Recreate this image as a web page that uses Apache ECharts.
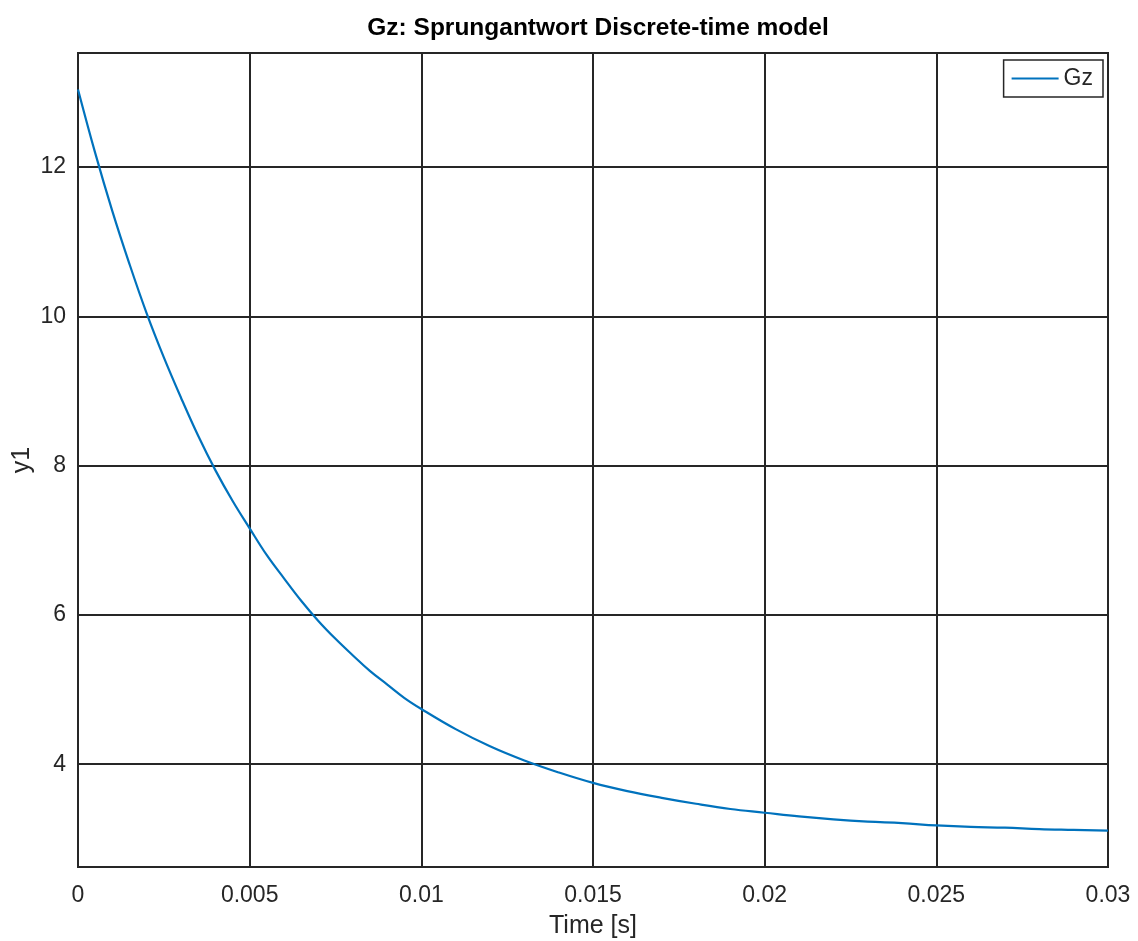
<!DOCTYPE html>
<html>
<head>
<meta charset="utf-8">
<script src="https://cdn.jsdelivr.net/npm/echarts@6/dist/echarts.min.js"></script>
<style>
html,body{margin:0;padding:0;background:#fff;}
#chart{width:1138px;height:941px;}
</style>
</head>
<body>
<div id="chart"></div>
<script>
// time samples [s]
const timeS = [0, 0.0005, 0.001, 0.0015, 0.002, 0.0025, 0.003, 0.0035, 0.004, 0.0045,
  0.005, 0.0055, 0.006, 0.0065, 0.007, 0.0075, 0.008, 0.0085, 0.009, 0.0095,
  0.010, 0.011, 0.012, 0.013, 0.014, 0.015, 0.016, 0.017, 0.018, 0.019,
  0.020, 0.021, 0.022, 0.023, 0.024, 0.025, 0.026, 0.027, 0.028, 0.029, 0.030];
// Gz step response y1
const gzValues = [13.04, 12.19, 11.41, 10.70, 10.04, 9.45, 8.91, 8.40, 7.94, 7.53,
  7.16, 6.80, 6.49, 6.19, 5.92, 5.68, 5.46, 5.25, 5.07, 4.89,
  4.74, 4.47, 4.24, 4.05, 3.89, 3.75, 3.64, 3.55, 3.47, 3.40,
  3.35, 3.30, 3.26, 3.23, 3.21, 3.18, 3.16, 3.15, 3.13, 3.12, 3.11];
const xTickValues = [0, 0.005, 0.01, 0.015, 0.02, 0.025, 0.03];
const xTickLabels = ['0', '0.005', '0.01', '0.015', '0.02', '0.025', '0.03'];
const yTickValues = [4, 6, 8, 10, 12];
const yTickLabels = ['4', '6', '8', '10', '12'];
const titleText = 'Gz: Sprungantwort Discrete-time model';
const xName = 'Time [s]';
const yName = 'y1';
const seriesName = 'Gz';

const textColor = '#262626';
const gridColor = '#262626';
const lineColor = '#0072BD';
const fontFam = '"Liberation Sans", Arial, Helvetica, sans-serif';

const chart = echarts.init(document.getElementById('chart'), null, {renderer: 'canvas'});
const data = timeS.map((t, i) => [t, gzValues[i]]);

chart.setOption({
  animation: false,
  backgroundColor: '#ffffff',
  title: {
    text: titleText,
    left: 593, textAlign: 'center', top: 11,
    textStyle: {fontFamily: fontFam, fontWeight: 'bold', fontSize: 24.5, color: '#000'}
  },
  grid: {
    left: 78, right: 30, top: 53, bottom: 74,
    outerBoundsMode: 'none', containLabel: false,
    show: true, borderColor: gridColor, borderWidth: 2, backgroundColor: '#fff'
  },
  legend: {
    right: 35, top: 60,
    data: [{name: seriesName, icon: 'rect'}],
    itemWidth: 47, itemHeight: 2,
    padding: [7, 10, 7, 8],
    backgroundColor: '#fff',
    borderColor: gridColor, borderWidth: 1.5, borderRadius: 0,
    itemStyle: {color: lineColor},
    textStyle: {fontFamily: fontFam, fontSize: 23, color: textColor}
  },
  xAxis: {
    type: 'value', min: 0, max: 0.03,
    name: xName, nameLocation: 'middle', nameGap: 47,
    nameTextStyle: {fontFamily: fontFam, fontSize: 25, color: textColor},
    axisLine: {show: false},
    axisTick: {show: false, customValues: xTickValues},
    axisLabel: {
      customValues: xTickValues,
      formatter: v => { const i = xTickValues.findIndex(x => Math.abs(x - v) < 1e-9); return i >= 0 ? xTickLabels[i] : ''; },
      margin: 17, fontFamily: fontFam, fontSize: 23, color: textColor
    },
    splitLine: {show: true, lineStyle: {color: gridColor, width: 2}}
  },
  yAxis: {
    type: 'value', min: 2.623, max: 13.528,
    name: yName, nameLocation: 'middle', nameGap: 43, nameMoveOverlap: false,
    nameTextStyle: {fontFamily: fontFam, fontSize: 25, color: textColor},
    axisLine: {show: false},
    axisTick: {show: false, customValues: yTickValues},
    axisLabel: {
      customValues: yTickValues,
      formatter: v => { const i = yTickValues.findIndex(x => Math.abs(x - v) < 1e-9); return i >= 0 ? yTickLabels[i] : ''; },
      margin: 12, fontFamily: fontFam, fontSize: 23, color: textColor
    },
    splitLine: {show: true, lineStyle: {color: gridColor, width: 2}}
  },
  series: [{
    name: seriesName,
    type: 'line',
    data: data,
    symbol: 'none',
    smooth: 0.4,
    lineStyle: {color: lineColor, width: 2.2},
    itemStyle: {color: lineColor},
    z: 5
  }]
});
</script>
</body>
</html>
